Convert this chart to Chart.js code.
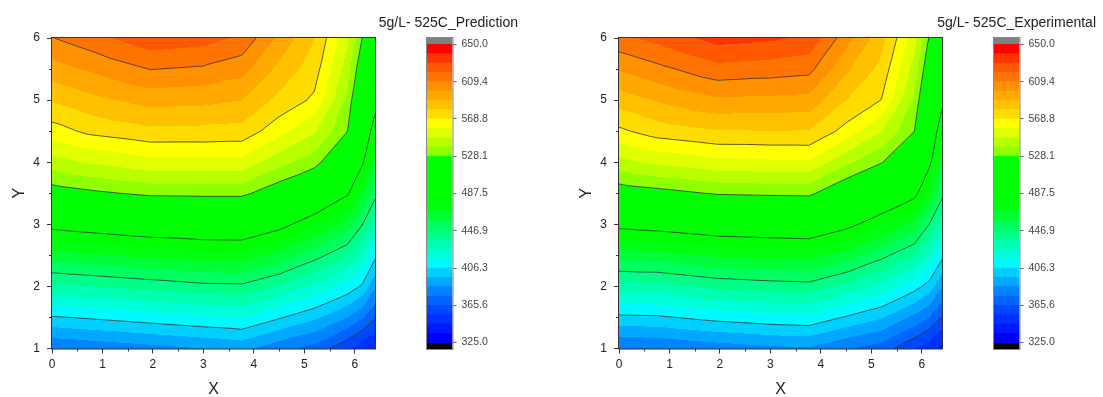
<!DOCTYPE html>
<html>
<head>
<meta charset="utf-8">
<script src="https://cdn.jsdelivr.net/npm/chart.js@4.4.1/dist/chart.umd.min.js"></script>
<style>
  html, body { margin: 0; padding: 0; background: #fff; }
  #wrap { position: relative; width: 1103px; height: 397px; overflow: hidden; font-family: 'Liberation Sans', Arial, sans-serif; }
  .box { position: absolute; top: 0; height: 397px; }
  .title { position: absolute; top: 14px; font-size: 14px; line-height: 16px; color: #222; text-align: right; white-space: nowrap; }
</style>
</head>
<body>
<div id="wrap">
  <div class="box" style="left:0;width:390px"><canvas id="plotPred"></canvas></div>
  <div class="box" style="left:400px;width:130px"><canvas id="barPred"></canvas></div>
  <div class="title" style="left:300px;width:218px">5g/L- 525C_Prediction</div>

  <div class="box" style="left:567px;width:390px"><canvas id="plotExp"></canvas></div>
  <div class="box" style="left:967px;width:130px"><canvas id="barExp"></canvas></div>
  <div class="title" style="left:880px;width:216px">5g/L- 525C_Experimental</div>
</div>
<script>
// grid nodes of the contour data
const xNodes = [0, 0.75, 1.95, 3.0, 3.76, 4.5, 5.2, 5.85, 6.15, 6.4];
const yNodes = [1, 1.5, 2, 2.5, 3, 3.5, 4, 4.5, 5, 5.5, 6];

// z values, one row per y node (bottom to top), one column per x node
const zPrediction = [
    [376.1, 378.5, 382.5, 386.0, 389.1, 379.2, 372.0, 357.7, 348.9, 345.9],
    [405.1, 407.5, 411.5, 415.0, 416.9, 407.4, 398.4, 385.9, 376.8, 366.9],
    [434.1, 436.5, 440.5, 444.0, 444.7, 435.6, 424.7, 413.2, 404.6, 387.9],
    [463.1, 465.7, 469.8, 472.8, 473.2, 464.2, 451.2, 438.0, 426.2, 408.9],
    [492.3, 495.4, 500.0, 502.0, 502.2, 492.7, 478.3, 463.8, 447.3, 430.5],
    [522.1, 525.7, 530.6, 531.0, 531.0, 519.9, 506.9, 489.5, 469.6, 450.6],
    [544.0, 549.3, 555.1, 555.4, 555.5, 542.2, 532.8, 509.4, 489.4, 466.0],
    [564.0, 571.2, 576.2, 576.0, 575.2, 562.4, 549.8, 528.5, 499.1, 481.4],
    [580.0, 585.9, 593.0, 591.9, 589.2, 576.0, 566.8, 535.9, 508.7, 492.2],
    [594.7, 600.6, 609.7, 607.8, 603.2, 586.4, 573.6, 543.3, 518.4, 500.1],
    [609.0, 615.3, 626.2, 623.8, 617.2, 597.0, 579.2, 550.7, 527.6, 508.0]
];

const zExperimental = [
    [375.4, 376.0, 380.4, 383.7, 384.8, 376.6, 371.0, 356.4, 349.2, 342.4],
    [404.0, 404.6, 409.8, 412.7, 413.8, 405.2, 397.3, 383.5, 375.6, 364.7],
    [432.6, 433.2, 439.3, 441.7, 442.8, 433.7, 423.7, 410.5, 402.1, 387.1],
    [461.8, 463.2, 469.0, 470.8, 471.8, 463.0, 450.3, 436.5, 424.7, 409.3],
    [491.6, 494.1, 499.0, 500.4, 501.2, 492.0, 478.9, 465.1, 446.5, 430.7],
    [521.0, 523.9, 529.2, 530.2, 530.7, 516.7, 504.6, 492.2, 471.8, 450.4],
    [544.7, 550.5, 555.6, 556.7, 557.2, 541.0, 528.9, 510.4, 490.9, 464.8],
    [566.6, 573.7, 578.4, 578.6, 578.5, 565.0, 548.8, 528.3, 499.8, 479.2],
    [583.7, 590.1, 597.5, 596.8, 595.9, 579.0, 568.5, 536.5, 508.7, 490.9],
    [600.2, 606.4, 616.1, 614.5, 612.7, 591.2, 575.8, 544.7, 517.6, 498.9],
    [616.7, 622.8, 633.6, 631.5, 627.7, 603.5, 582.7, 552.9, 526.5, 507.0]
];

// colour scale
const colorbarTicks = [325, 365.625, 406.25, 446.875, 487.5, 528.125, 568.75, 609.375, 650];
const bandColors = [
    '#0000ff', '#0018ff', '#0030ff', '#0048ff', '#0064ff', '#0084ff', '#00a8ff', '#00d0ff',
    '#00f8ff', '#00ffd8', '#00ffb0', '#00ff88', '#00ff60', '#00ff38', '#00ff10', '#00ff00',
    '#00ff00', '#00ff00', '#00ff00', '#00ff00', '#90ff00', '#b8ff00', '#e0ff00', '#ffff00',
    '#ffdc00', '#ffc000', '#ffa800', '#ff9000', '#ff7400', '#ff5800', '#ff3400', '#ff0000'
];
const underColor = '#000000';
const overColor = '#808080';

const xTicks = [0, 1, 2, 3, 4, 5, 6];
const xMinorTicks = [0.5, 1.5, 2.5, 3.5, 4.5, 5.5];
const yTicks = [1, 2, 3, 4, 5, 6];
const yMinorTicks = [1.5, 2.5, 3.5, 4.5, 5.5];

const FONT = "'Liberation Sans', Arial, sans-serif";
const zMin = colorbarTicks[0];
const zMax = colorbarTicks[colorbarTicks.length - 1];
const bandStep = (zMax - zMin) / bandColors.length;
const bandEdges = bandColors.map((c, k) => zMin + k * bandStep).concat([zMax]);
const contourLevels = colorbarTicks.slice(1, -1);

const hexToRgb = h => [parseInt(h.slice(1, 3), 16), parseInt(h.slice(3, 5), 16), parseInt(h.slice(5, 7), 16)];
const bandRgb = bandColors.map(hexToRgb);
const underRgb = hexToRgb(underColor);
const overRgb = hexToRgb(overColor);

function colorFor(z) {
    if (z < zMin) return underRgb;
    if (z >= zMax) return overRgb;
    return bandRgb[Math.min(bandRgb.length - 1, Math.floor((z - zMin) / bandStep))];
}

function findCell(nodes, v) {
    let i = 0;
    while (i < nodes.length - 2 && v > nodes[i + 1]) i++;
    const t = (v - nodes[i]) / (nodes[i + 1] - nodes[i]);
    return [i, Math.max(0, Math.min(1, t))];
}

// linear interpolation on the two triangles of each grid cell
function interp(z, i, u, j, v) {
    const z00 = z[j][i], z10 = z[j][i + 1], z01 = z[j + 1][i], z11 = z[j + 1][i + 1];
    if (u >= v) return z00 + u * (z10 - z00) + v * (z11 - z10);
    return z00 + v * (z01 - z00) + u * (z11 - z01);
}

function contourSegments(z, level) {
    const pts = [];
    for (let j = 0; j < yNodes.length - 1; j++) {
        for (let i = 0; i < xNodes.length - 1; i++) {
            const p00 = [xNodes[i], yNodes[j], z[j][i]];
            const p10 = [xNodes[i + 1], yNodes[j], z[j][i + 1]];
            const p01 = [xNodes[i], yNodes[j + 1], z[j + 1][i]];
            const p11 = [xNodes[i + 1], yNodes[j + 1], z[j + 1][i + 1]];
            for (const tri of [[p00, p10, p11], [p00, p11, p01]]) {
                const cross = [];
                for (let k = 0; k < 3; k++) {
                    const a = tri[k], b = tri[(k + 1) % 3];
                    if ((a[2] - level) * (b[2] - level) < 0) {
                        const t = (level - a[2]) / (b[2] - a[2]);
                        cross.push({ x: a[0] + t * (b[0] - a[0]), y: a[1] + t * (b[1] - a[1]) });
                    }
                }
                if (cross.length === 2) {
                    pts.push(cross[0], cross[1], { x: cross[1].x, y: null });
                }
            }
        }
    }
    return pts;
}

function contourFillPlugin(z) {
    return {
        id: 'contourFill',
        beforeDatasetsDraw(chart) {
            const { ctx, chartArea: a, scales: { x, y } } = chart;
            const left = Math.round(a.left), top = Math.round(a.top);
            const w = Math.round(a.right) - left, h = Math.round(a.bottom) - top;
            const img = ctx.createImageData(w, h);
            const cols = [];
            for (let px = 0; px < w; px++) cols.push(findCell(xNodes, x.getValueForPixel(left + px + 0.5)));
            for (let py = 0; py < h; py++) {
                const [j, v] = findCell(yNodes, y.getValueForPixel(top + py + 0.5));
                for (let px = 0; px < w; px++) {
                    const [i, u] = cols[px];
                    const c = colorFor(interp(z, i, u, j, v));
                    const o = (py * w + px) * 4;
                    img.data[o] = c[0];
                    img.data[o + 1] = c[1];
                    img.data[o + 2] = c[2];
                    img.data[o + 3] = 255;
                }
            }
            ctx.putImageData(img, left, top);
        }
    };
}

const plotFrame = {
    id: 'plotFrame',
    afterDraw(chart) {
        const { ctx, chartArea: a, scales: { x, y } } = chart;
        ctx.save();
        ctx.strokeStyle = '#333';
        ctx.lineWidth = 1;
        ctx.strokeRect(a.left - 0.5, a.top - 0.5, a.right - a.left + 1, a.bottom - a.top + 1);
        ctx.beginPath();
        xMinorTicks.forEach(v => {
            const px = Math.round(x.getPixelForValue(v)) + 0.5;
            ctx.moveTo(px, a.bottom);
            ctx.lineTo(px, a.bottom + 3);
        });
        yMinorTicks.forEach(v => {
            const py = Math.round(y.getPixelForValue(v)) + 0.5;
            ctx.moveTo(a.left - 3, py);
            ctx.lineTo(a.left, py);
        });
        ctx.stroke();
        ctx.restore();
    }
};

const barFrame = {
    id: 'barFrame',
    afterDraw(chart) {
        const { ctx, chartArea: a } = chart;
        ctx.save();
        ctx.strokeStyle = '#888';
        ctx.lineWidth = 1;
        ctx.strokeRect(a.left - 0.5, a.top - 0.5, a.right - a.left + 1, a.bottom - a.top + 1);
        ctx.restore();
    }
};

function makePlot(canvasId, z) {
    const datasets = contourLevels.map(level => ({
        data: contourSegments(z, level),
        showLine: true,
        pointRadius: 0,
        borderColor: '#333',
        borderWidth: 0.8,
        spanGaps: false
    }));

    return new Chart(document.getElementById(canvasId), {
        type: 'scatter',
        data: { datasets },
        options: {
            responsive: true,
            maintainAspectRatio: false,
            animation: false,
            events: [],
            layout: { padding: { top: 38, right: 15, left: 0, bottom: 0 } },
            plugins: { legend: { display: false }, tooltip: { enabled: false } },
            scales: {
                x: {
                    type: 'linear',
                    min: 0,
                    max: 6.4,
                    afterBuildTicks: s => { s.ticks = xTicks.map(v => ({ value: v })); },
                    afterFit: s => { s.height = 48.5; },
                    grid: { drawOnChartArea: false, tickLength: 5, color: '#333' },
                    border: { color: '#333' },
                    ticks: { font: { size: 12, family: FONT }, color: '#222', padding: 4, maxRotation: 0 },
                    title: { display: true, text: 'X', font: { size: 16, family: FONT }, color: '#222', padding: { top: 0, bottom: -2 } }
                },
                y: {
                    type: 'linear',
                    min: 1,
                    max: 6,
                    afterBuildTicks: s => { s.ticks = yTicks.map(v => ({ value: v })); },
                    afterFit: s => { s.width = 52; },
                    grid: { drawOnChartArea: false, tickLength: 5, color: '#333' },
                    border: { color: '#333' },
                    ticks: { font: { size: 12, family: FONT }, color: '#222', padding: 7 },
                    title: { display: true, text: 'Y', font: { size: 16, family: FONT }, color: '#222', padding: { top: 10, bottom: 0 } }
                }
            }
        },
        plugins: [contourFillPlugin(z), plotFrame]
    });
}

function makeColorbar(canvasId) {
    const datasets = bandColors.map((c, k) => ({
        data: [[bandEdges[k], bandEdges[k + 1]]],
        backgroundColor: c
    }));
    datasets.push({ data: [[zMin - 7, zMin]], backgroundColor: underColor });
    datasets.push({ data: [[zMax, zMax + 7]], backgroundColor: overColor });

    return new Chart(document.getElementById(canvasId), {
        type: 'bar',
        data: { labels: [''], datasets },
        options: {
            responsive: true,
            maintainAspectRatio: false,
            animation: false,
            events: [],
            datasets: { bar: { grouped: false, barPercentage: 1, categoryPercentage: 1, borderWidth: 0 } },
            layout: { padding: { top: 38, right: 0, left: 27, bottom: 48 } },
            plugins: { legend: { display: false }, tooltip: { enabled: false } },
            scales: {
                x: { display: false },
                y: {
                    position: 'right',
                    min: zMin - 7,
                    max: zMax + 7,
                    afterBuildTicks: s => { s.ticks = colorbarTicks.map(v => ({ value: v })); },
                    afterFit: s => { s.width = 77.5; },
                    grid: { drawOnChartArea: false, tickLength: 4, color: '#666' },
                    border: { display: false },
                    ticks: { callback: v => v.toFixed(1), font: { size: 10.5, family: FONT }, color: '#444', padding: 5 }
                }
            }
        },
        plugins: [barFrame]
    });
}

makePlot('plotPred', zPrediction);
makeColorbar('barPred');
makePlot('plotExp', zExperimental);
makeColorbar('barExp');
</script>
</body>
</html>
